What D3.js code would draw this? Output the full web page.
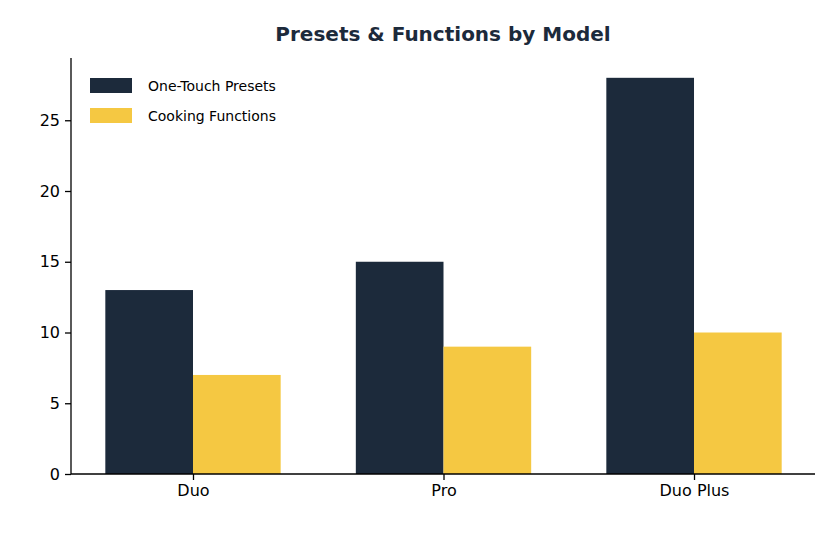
<!DOCTYPE html>
<html><head><meta charset="utf-8">
<script src="https://cdn.jsdelivr.net/npm/d3@7"></script>
<style>body{margin:0;background:#fff}text{font-family:"DejaVu Sans",sans-serif}</style>
</head><body><svg id="c" width="835" height="537"></svg>
<script>
const models = ['Duo', 'Pro', 'Duo Plus'];
const presets = [13, 15, 28];
const functions = [7, 9, 10];
const seriesNames = ['One-Touch Presets', 'Cooking Functions'];
const colors = ['#1c2a3b', '#f5c842'];

const svg = d3.select('#c');
const x = d3.scaleLinear().domain([-0.487, 2.483]).range([71, 815]);
const y = d3.scaleLinear().domain([0, 29.4]).range([474, 58]);
const bw = 0.35;

[presets, functions].forEach(function (vals, s) {
    svg.append('g').selectAll('rect').data(vals).enter().append('rect')
        .attr('x', (d, i) => x(i + (s === 0 ? -bw : 0)))
        .attr('width', x(bw) - x(0))
        .attr('y', d => y(d))
        .attr('height', d => y(0) - y(d))
        .attr('fill', colors[s]);
});

const ya = svg.append('g').attr('transform', 'translate(71,0)')
    .call(d3.axisLeft(y).tickValues([0, 5, 10, 15, 20, 25]).tickSize(6).tickPadding(5));
const xa = svg.append('g').attr('transform', 'translate(0,474)')
    .call(d3.axisBottom(x).tickValues([0, 1, 2]).tickFormat(i => models[i]).tickSize(6).tickPadding(5));
[ya, xa].forEach(a => {
    a.selectAll('text').attr('font-size', 16).attr('fill', '#000').style('font-family', '"DejaVu Sans",sans-serif');
    a.selectAll('line,path').attr('stroke', '#000').attr('stroke-width', 1.3);
});
ya.select('.domain').attr('d', 'M0,474V58');
xa.select('.domain').attr('d', 'M71,0H815');

svg.append('text').attr('x', 443).attr('y', 41).attr('text-anchor', 'middle')
    .attr('font-size', 20).attr('font-weight', 'bold').attr('fill', '#1c2a3b')
    .text('Presets & Functions by Model');

const lg = svg.append('g').selectAll('g').data(seriesNames).enter().append('g')
    .attr('transform', (d, i) => `translate(90,${78 + i * 30})`);
lg.append('rect').attr('width', 42).attr('height', 15).attr('fill', (d, i) => colors[i]);
lg.append('text').attr('x', 58).attr('y', 13).attr('font-size', 14).attr('fill', '#000').text(d => d);
</script></body></html>
